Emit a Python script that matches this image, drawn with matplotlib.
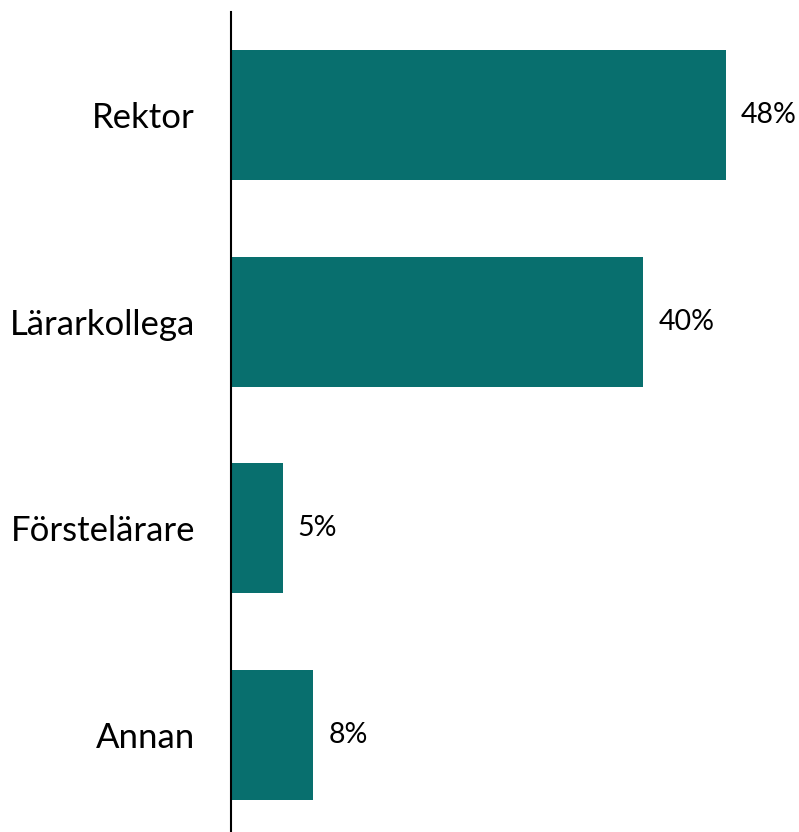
import matplotlib
matplotlib.use("Agg")
import matplotlib.pyplot as plt

# role categories and share of responses (%)
categories = ["Rektor", "Lärarkollega", "Förstelärare", "Annan"]
values = [48, 40, 5, 8]
value_labels = ["48%", "40%", "5%", "8%"]

plt.rcParams['font.family'] = ['Lato', 'DejaVu Sans']

fig = plt.figure(figsize=(7.99, 8.32), dpi=100)
ax = fig.add_axes([231 / 799, -6 / 832, 567 / 799, 826 / 832])

pos = range(len(categories))
ax.barh(pos, values, height=0.63, color="#086f6e")
ax.set_ylim(len(categories) - 0.5, -0.5)
ax.set_xlim(0, 55)

ax.set_yticks(list(pos))
ax.set_yticklabels(categories, fontsize=25)
ax.tick_params(axis="y", length=0, pad=26)
ax.set_xticks([])

for sp in ["top", "right", "bottom"]:
    ax.spines[sp].set_visible(False)
ax.spines["left"].set_linewidth(1.5)

for i, (v, lab) in enumerate(zip(values, value_labels)):
    ax.annotate(lab, (v, i), xytext=(15, 0), textcoords="offset pixels",
                va="center", ha="left", fontsize=20.5)

fig.savefig("out.png", dpi=100)
